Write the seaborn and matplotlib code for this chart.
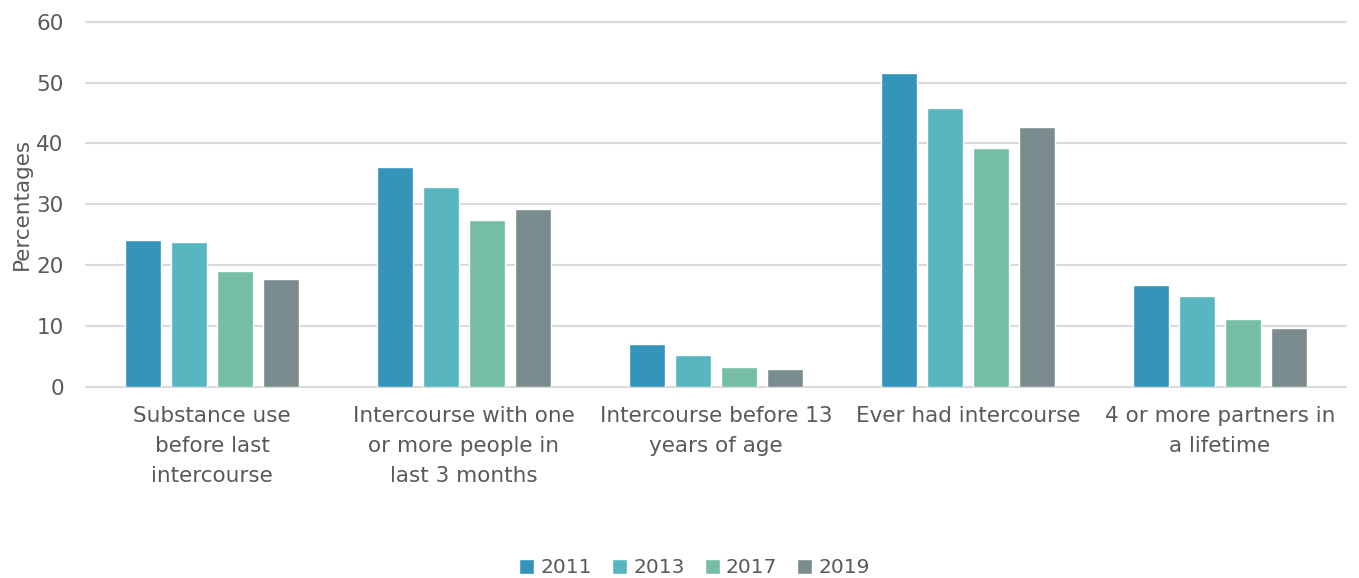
import pandas as pd
import matplotlib.pyplot as plt
import seaborn as sns

# values
categories = ['Substance use\nbefore last\nintercourse',
              'Intercourse with one\nor more people in\nlast 3 months',
              'Intercourse before 13\nyears of age',
              'Ever had intercourse',
              '4 or more partners in\na lifetime']
years = ['2011', '2013', '2017', '2019']
v2011 = [24.2, 36.2, 7.0, 51.6, 16.7]
v2013 = [23.8, 32.8, 5.2, 45.9, 14.9]
v2017 = [19.1, 27.5, 3.3, 39.2, 11.2]
v2019 = [17.7, 29.3, 2.9, 42.7, 9.7]
colors = ['#3494BA', '#58B6C0', '#75BDA7', '#7A8C8E']

rows = []
for yr, vals in zip(years, [v2011, v2013, v2017, v2019]):
    for cat, v in zip(categories, vals):
        rows.append({'category': cat, 'year': yr, 'value': v})
df = pd.DataFrame(rows)

sns.set_style('white')
plt.rcParams['font.family'] = ['DejaVu Sans']
txt = '#595959'
fs = 15.5

fig = plt.figure(figsize=(13.59, 5.78), dpi=100)
ax = fig.add_axes([86 / 1359, 1 - 387 / 578, 1260 / 1359, 365.3 / 578])

sns.barplot(data=df, x='category', y='value', hue='year', palette=colors,
            saturation=1, width=0.73, gap=0.2, ax=ax, zorder=3)

ax.set_ylim(0, 60)
ax.set_xlim(-0.5, 4.5)
ax.set_yticks(range(0, 61, 10))
ax.yaxis.grid(True, color='#D9D9D9', linewidth=1.5, zorder=0)
for gl in ax.get_ygridlines():
    gl.set_clip_on(False)
ax.set_axisbelow(True)
for s in ax.spines.values():
    s.set_visible(False)
ax.tick_params(axis='both', length=0, labelsize=fs, colors=txt)
ax.tick_params(axis='y', pad=16)
ax.tick_params(axis='x', pad=14)
ax.set_xlabel('')
ax.set_ylabel('Percentages', fontsize=fs, color=txt)
ax.yaxis.set_label_coords(-0.043, 0.5)
for lab in ax.get_xticklabels():
    lab.set_linespacing(1.6)

leg = ax.legend(loc='center', bbox_to_anchor=(0.483, -0.495), ncol=4, frameon=False,
                fontsize=14.5, handlelength=0.75, handleheight=0.75, handletextpad=0.3,
                columnspacing=1.0, labelcolor=txt)

fig.savefig('out.png', dpi=100)
